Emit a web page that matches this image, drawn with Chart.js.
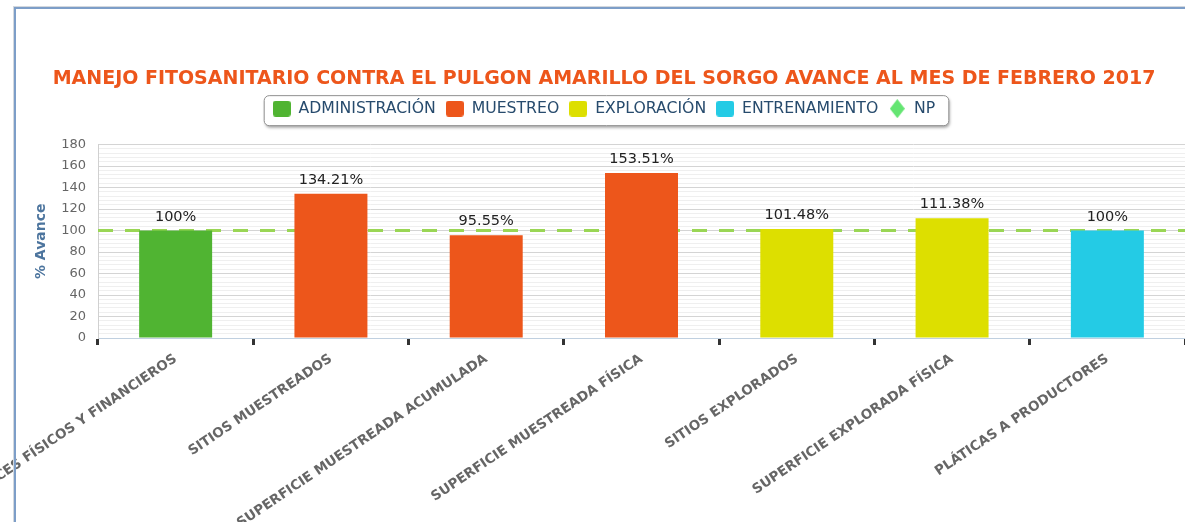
<!DOCTYPE html>
<html>
<head>
<meta charset="utf-8">
<title>Pulgón amarillo del sorgo - avance</title>
<script src="https://cdn.jsdelivr.net/npm/chart.js@4.4.1/dist/chart.umd.min.js"></script>
<style>
    html, body { margin: 0; padding: 0; background: #fff; overflow: hidden; }
    body { width: 1185px; height: 522px; position: relative; }
    #avance-chart { position: absolute; left: 0; top: 0; }
    .frame { position: absolute; left: 13px; top: 6px; width: 1200px; height: 540px; border-left: 1px solid #d3d8de; border-top: 1px solid #d3d8de; pointer-events: none; }
    .frame div { position: absolute; left: 0; top: 0; right: 0; bottom: 0; border-left: 2px solid #7d9ec8; border-top: 2px solid #7d9ec8; }
</style>
</head>
<body>
<canvas id="avance-chart" width="1208" height="522"></canvas>
<div class="frame"><div></div></div>
<script>
(function() {
    'use strict';

    // Categorías del eje X
    const categories = [
        'AVANCES FÍSICOS Y FINANCIEROS',
        'SITIOS MUESTREADOS',
        'SUPERFICIE MUESTREADA ACUMULADA',
        'SUPERFICIE MUESTREADA FÍSICA',
        'SITIOS EXPLORADOS',
        'SUPERFICIE EXPLORADA FÍSICA',
        'PLÁTICAS A PRODUCTORES'
    ];

    // Series (% de avance)
    const administracion = [100, null, null, null, null, null, null];
    const muestreo       = [null, 134.21, 95.55, 153.51, null, null, null];
    const exploracion    = [null, null, null, null, 101.48, 111.38, null];
    const entrenamiento  = [null, null, null, null, null, null, 100];
    const np             = [100, 100, 100, 100, 100, 100, 100];

    // Eje Y
    const yMax = 180;
    const yMajorStep = 20;
    const yMinorStep = 4;

    const FONT = '"DejaVu Sans", Verdana, sans-serif';
    Chart.defaults.font.family = FONT;
    Chart.defaults.color = '#666';

    // Small legend icons (square / diamond)
    function swatch(color, shape) {
        const c = document.createElement('canvas');
        const g = c.getContext('2d');
        if (shape === 'diamond') {
            c.width = 15; c.height = 19;
            g.fillStyle = color;
            g.beginPath();
            g.moveTo(7.5, 0); g.lineTo(15, 9.5); g.lineTo(7.5, 19); g.lineTo(0, 9.5);
            g.closePath();
        } else {
            c.width = 18; c.height = 16;
            g.fillStyle = color;
            g.beginPath();
            g.roundRect(0, 0, 18, 16, 3);
        }
        g.fill();
        return c;
    }

    /**
     * Value labels above each bar
     */
    const barLabels = {
        id: 'barLabels',
        afterDatasetsDraw(chart) {
            const ctx = chart.ctx;
            ctx.save();
            ctx.font = '14.5px ' + FONT;
            ctx.fillStyle = '#222';
            ctx.textAlign = 'center';
            ctx.textBaseline = 'alphabetic';
            chart.data.datasets.forEach((ds, i) => {
                if (ds.type === 'line') return;
                chart.getDatasetMeta(i).data.forEach((bar, j) => {
                    const v = ds.data[j];
                    if (v === null || v === undefined) return;
                    ctx.fillText(v + '%', bar.x, bar.y - 10);
                });
            });
            ctx.restore();
        }
    };

    /**
     * Rounded box with shadow behind the legend
     */
    const legendFrame = {
        id: 'legendFrame',
        beforeLayout(chart) {
            const lg = chart.legend;
            if (lg && !lg._extraSpace) {
                const fit = lg.fit;
                lg.fit = function() {
                    fit.call(this);
                    this.height += 18;
                };
                lg._extraSpace = true;
            }
        },
        beforeDraw(chart) {
            const hb = chart.legend && chart.legend.legendHitBoxes;
            if (!hb || !hb.length) return;
            const left = Math.min(...hb.map(b => b.left)) - 9;
            const right = Math.max(...hb.map(b => b.left + b.width)) + 13;
            const cy = hb[0].top + hb[0].height / 2;
            const top = cy - 13.5;
            const bottom = cy + 16.5;
            const ctx = chart.ctx;
            ctx.save();
            ctx.shadowColor = 'rgba(0, 0, 0, 0.35)';
            ctx.shadowBlur = 3;
            ctx.shadowOffsetX = 1;
            ctx.shadowOffsetY = 2;
            ctx.beginPath();
            ctx.roundRect(left + 0.5, top + 0.5, right - left, bottom - top, 5);
            ctx.fillStyle = '#fff';
            ctx.fill();
            ctx.shadowColor = 'transparent';
            ctx.strokeStyle = '#909090';
            ctx.lineWidth = 1;
            ctx.stroke();
            ctx.restore();
        }
    };

    const ctx = document.getElementById('avance-chart');

    new Chart(ctx, {
        type: 'bar',
        data: {
            labels: categories,
            datasets: [
                { label: 'ADMINISTRACIÓN', data: administracion, backgroundColor: '#50B432', pointStyle: swatch('#50B432') },
                { label: 'MUESTREO', data: muestreo, backgroundColor: '#ED561B', pointStyle: swatch('#ED561B') },
                { label: 'EXPLORACIÓN', data: exploracion, backgroundColor: '#DDDF00', pointStyle: swatch('#DDDF00') },
                { label: 'ENTRENAMIENTO', data: entrenamiento, backgroundColor: '#24CBE5', pointStyle: swatch('#24CBE5') },
                {
                    type: 'line',
                    label: 'NP',
                    data: np,
                    xAxisID: 'xNP',
                    borderColor: '#9ad655',
                    borderWidth: 3,
                    borderDash: [15, 12],
                    pointRadius: 0,
                    pointStyle: swatch('#64E572', 'diamond'),
                    fill: false,
                    order: 10
                }
            ]
        },
        options: {
            responsive: false,
            animation: false,
            devicePixelRatio: 1,
            grouped: false,
            barPercentage: 0.47,
            categoryPercentage: 1,
            layout: {
                padding: { left: 23, right: 23, top: 0, bottom: 0 }
            },
            plugins: {
                title: {
                    display: true,
                    text: 'MANEJO FITOSANITARIO CONTRA EL PULGON AMARILLO DEL SORGO AVANCE AL MES DE FEBRERO 2017',
                    color: '#ED561B',
                    font: { size: 19, weight: 'bold' },
                    padding: { top: 68, bottom: 0 }
                },
                legend: {
                    position: 'top',
                    labels: {
                        usePointStyle: true,
                        pointStyleWidth: 18,
                        padding: 10,
                        color: '#274b6d',
                        font: { size: 15.7 }
                    }
                },
                tooltip: { enabled: false }
            },
            scales: {
                x: {
                    offset: true,
                    grid: {
                        offset: true,
                        drawOnChartArea: false,
                        drawTicks: true,
                        tickLength: 7,
                        tickWidth: 3,
                        tickColor: '#333'
                    },
                    border: { display: true, color: '#c0d0e0', width: 1 },
                    ticks: {
                        autoSkip: false,
                        minRotation: 34,
                        maxRotation: 34,
                        padding: 6,
                        color: '#666',
                        font: { size: 13.5, weight: 'bold' }
                    },
                    afterFit(scale) {
                        scale.paddingLeft = 0;
                        scale.paddingRight = 0;
                        scale.height = 184;
                    }
                },
                xNP: {
                    type: 'category',
                    labels: categories,
                    offset: false,
                    display: false
                },
                y: {
                    min: 0,
                    max: yMax,
                    ticks: {
                        stepSize: yMinorStep,
                        autoSkip: false,
                        padding: 12,
                        color: '#666',
                        font: { size: 13 },
                        callback: value => value % yMajorStep === 0 ? value : ''
                    },
                    grid: {
                        drawTicks: false,
                        color: c => (c.tick && c.tick.value % yMajorStep === 0) ? '#d4d4d4' : '#efefef'
                    },
                    border: { display: true, color: '#d0d0d0' },
                    title: {
                        display: true,
                        text: '% Avance',
                        color: '#4d759e',
                        font: { size: 14, weight: 'bold' },
                        padding: { top: 10, bottom: 0 }
                    },
                    afterFit(scale) {
                        scale.width = 75;
                    }
                }
            }
        },
        plugins: [legendFrame, barLabels]
    });
})();
</script>
</body>
</html>
